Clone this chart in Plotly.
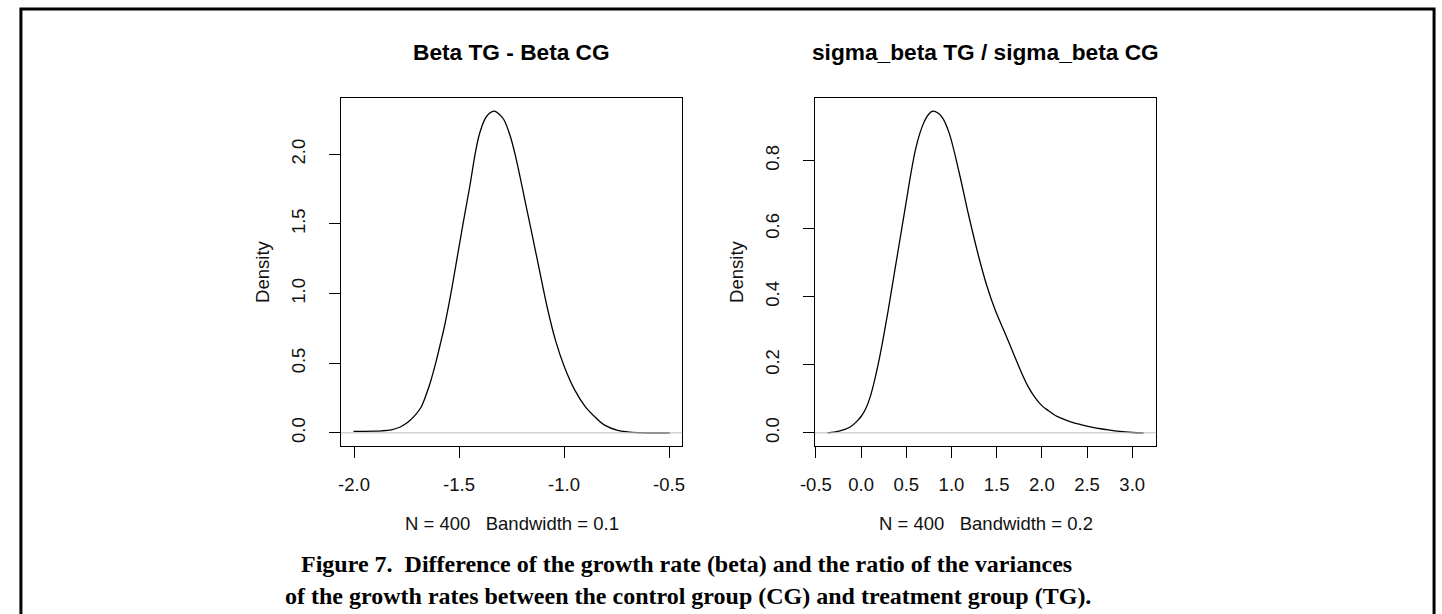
import plotly.graph_objects as go

W, H = 1442, 614

# ---- data ----
beta_x = [-2.0025, -1.95, -1.90, -1.87, -1.822, -1.78, -1.744, -1.71, -1.681, -1.655,
          -1.634, -1.608, -1.585, -1.57, -1.54, -1.51, -1.48, -1.45, -1.42, -1.40,
          -1.37, -1.334, -1.31, -1.287, -1.256, -1.23, -1.20, -1.16, -1.12, -1.08,
          -1.04, -1.00, -0.95, -0.90, -0.85, -0.807, -0.745, -0.698, -0.65, -0.497]
beta_d = [0.011, 0.011, 0.012, 0.014, 0.022, 0.042, 0.076, 0.125, 0.184, 0.28,
          0.376, 0.52, 0.664, 0.76, 0.99, 1.25, 1.51, 1.76, 2.03, 2.16,
          2.27, 2.31, 2.29, 2.25, 2.13, 1.98, 1.77, 1.48, 1.19, 0.90,
          0.66, 0.48, 0.31, 0.19, 0.11, 0.055, 0.018, 0.007, 0.002, 0.0]

sig_x = [-0.371, -0.30, -0.243, -0.18, -0.116, -0.05, 0.0, 0.05, 0.10, 0.15,
         0.20, 0.25, 0.30, 0.35, 0.40, 0.45, 0.50, 0.55, 0.60, 0.65,
         0.70, 0.75, 0.794, 0.85, 0.903, 0.976, 1.085, 1.194, 1.303, 1.394,
         1.485, 1.594, 1.703, 1.776, 1.85, 1.921, 2.0, 2.068, 2.15, 2.213,
         2.32, 2.431, 2.55, 2.65, 2.75, 2.832, 3.0, 3.126]
sig_d = [0.0, 0.002, 0.005, 0.010, 0.018, 0.033, 0.048, 0.070, 0.105, 0.155,
         0.215, 0.285, 0.36, 0.44, 0.52, 0.60, 0.68, 0.76, 0.83, 0.88,
         0.915, 0.937, 0.945, 0.94, 0.925, 0.88, 0.765, 0.635, 0.516, 0.43,
         0.36, 0.292, 0.222, 0.176, 0.135, 0.105, 0.08, 0.066, 0.051, 0.043,
         0.032, 0.024, 0.017, 0.012, 0.008, 0.005, 0.001, 0.0]

left_xticks = [-2.0, -1.5, -1.0, -0.5]
left_xtext = ["-2.0", "-1.5", "-1.0", "-0.5"]
left_yticks = [0.0, 0.5, 1.0, 1.5, 2.0]
left_ytext = ["0.0", "0.5", "1.0", "1.5", "2.0"]
right_xticks = [-0.5, 0.0, 0.5, 1.0, 1.5, 2.0, 2.5, 3.0]
right_xtext = ["-0.5", "0.0", "0.5", "1.0", "1.5", "2.0", "2.5", "3.0"]
right_yticks = [0.0, 0.2, 0.4, 0.6, 0.8]
right_ytext = ["0.0", "0.2", "0.4", "0.6", "0.8"]

titles = ["Beta TG - Beta CG", "sigma_beta TG / sigma_beta CG"]
subs = ["N = 400   Bandwidth = 0.1", "N = 400   Bandwidth = 0.2"]
caption1 = "Figure 7.  Difference of the growth rate (beta) and the ratio of the variances"
caption2 = "of the growth rates between the control group (CG) and treatment group (TG)."

# ---- layout geometry (pixels) ----
box_top, box_bot = 98.3, 445.7
L = (330.0, 675.7)
R = (810.0, 1155.7)

def px(x):
    return x / W

def py(y):
    return 1 - y / H

SANS = "Liberation Sans, Arial, sans-serif"
TXT = "#111111"
FS = 18.5

fig = go.Figure()
fig.add_trace(go.Scatter(x=beta_x, y=beta_d, mode="lines", xaxis="x", yaxis="y",
                         line=dict(color="black", width=1.3, shape="spline", smoothing=1),
                         showlegend=False, hoverinfo="skip"))
fig.add_trace(go.Scatter(x=sig_x, y=sig_d, mode="lines", xaxis="x2", yaxis="y2",
                         line=dict(color="black", width=1.3, shape="spline", smoothing=1),
                         showlegend=False, hoverinfo="skip"))

def xax(dom, rng, tv, tt, anchor):
    return dict(domain=[px(dom[0]), px(dom[1])], range=rng, anchor=anchor,
                tickvals=tv, ticktext=tt, ticks="outside", ticklen=11, tickwidth=1,
                tickcolor="black", showline=True, linecolor="black", linewidth=1,
                mirror=True, showgrid=False, zeroline=False,
                tickfont=dict(family=SANS, size=FS, color=TXT), ticklabelstandoff=11)

def yax(rng, tv, tt, anchor):
    return dict(domain=[py(box_bot), py(box_top)], range=rng, anchor=anchor,
                tickvals=tv, ticktext=tt, ticks="outside", ticklen=11, tickwidth=1,
                tickcolor="black", showline=True, linecolor="black", linewidth=1,
                mirror=True, showgrid=False, zeroline=False, tickangle=-90,
                tickfont=dict(family=SANS, size=FS, color=TXT), ticklabelstandoff=16)

fig.update_layout(
    width=W, height=H, autosize=False,
    margin=dict(l=0, r=0, t=0, b=0),
    paper_bgcolor="white", plot_bgcolor="white",
    xaxis=xax(L, [-2.0627, -0.437], left_xticks, left_xtext, "y"),
    yaxis=yax([-0.0924, 2.4024], left_yticks, left_ytext, "x"),
    xaxis2=xax(R, [-0.511, 3.266], right_xticks, right_xtext, "y2"),
    yaxis2=yax([-0.0378, 0.983], right_yticks, right_ytext, "x2"),
)

shapes = []
for xr, yr in (("x domain", "y"), ("x2 domain", "y2")):
    shapes.append(dict(type="line", xref=xr, yref=yr, x0=0, x1=1, y0=0, y1=0,
                       line=dict(color="#BEBEBE", width=1), layer="above"))
shapes.append(dict(type="rect", xref="paper", yref="paper",
                   x0=px(6), x1=px(1437), y0=-0.05, y1=py(9),
                   line=dict(color="black", width=3), fillcolor="rgba(0,0,0,0)"))
fig.update_layout(shapes=shapes)

ann = []
for i, (lo, hi) in enumerate((L, R)):
    cx = px((lo + hi) / 2)
    ann.append(dict(text="<b>" + titles[i] + "</b>", x=cx, y=py(52), xref="paper", yref="paper",
                    xanchor="center", yanchor="middle", showarrow=False,
                    font=dict(family=SANS, size=22.7, color="black")))
    ann.append(dict(text=subs[i], x=cx, y=py(523), xref="paper", yref="paper",
                    xanchor="center", yanchor="middle", showarrow=False,
                    font=dict(family=SANS, size=FS, color=TXT)))
    ann.append(dict(text="Density", x=px(lo - 80), y=py((box_top + box_bot) / 2),
                    xref="paper", yref="paper", xanchor="center", yanchor="middle",
                    textangle=-90, showarrow=False,
                    font=dict(family=SANS, size=FS, color=TXT)))

SERIF = "Liberation Serif, Times New Roman, serif"
ann.append(dict(text="<b>" + caption1 + "</b>", x=px(680), y=py(564), xref="paper", yref="paper",
                xanchor="center", yanchor="middle", showarrow=False,
                font=dict(family=SERIF, size=24, color="black")))
ann.append(dict(text="<b>" + caption2 + "</b>", x=px(682), y=py(596), xref="paper", yref="paper",
                xanchor="center", yanchor="middle", showarrow=False,
                font=dict(family=SERIF, size=24, color="black")))
fig.update_layout(annotations=ann)

fig.write_html("out.html")
